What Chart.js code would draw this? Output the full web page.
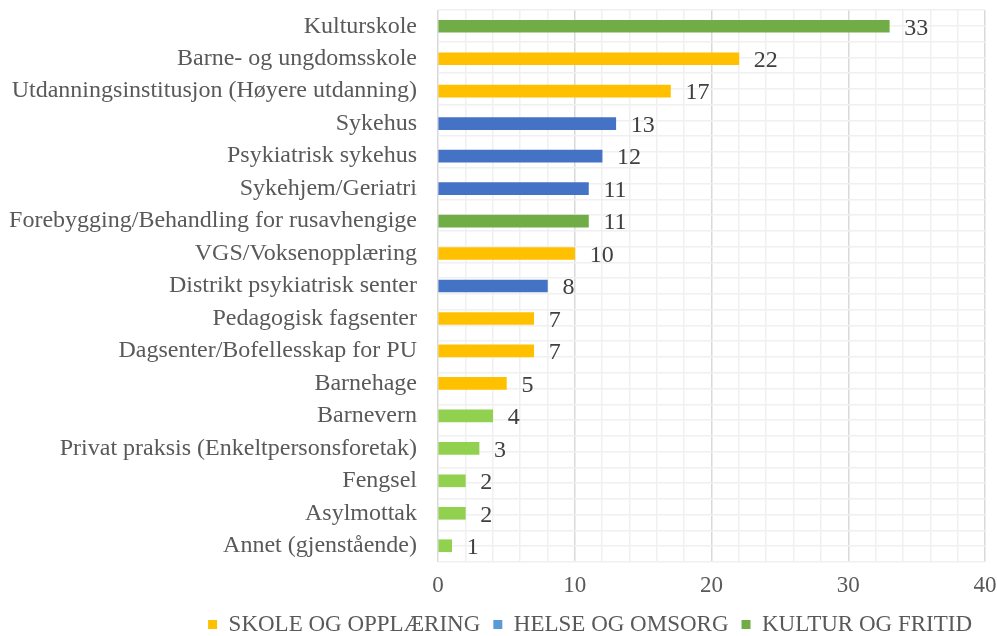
<!DOCTYPE html>
<html>
<head>
<meta charset="utf-8">
<script src="https://cdn.jsdelivr.net/npm/chart.js@4.4.1/dist/chart.umd.min.js"></script>
<style>
  html, body { margin: 0; padding: 0; background: #fff; }
  #wrap { width: 997px; height: 636px; }
</style>
</head>
<body>
<div id="wrap"><canvas id="chart"></canvas></div>
<script>
const categories = [
  'Kulturskole',
  'Barne- og ungdomsskole',
  'Utdanningsinstitusjon (Høyere utdanning)',
  'Sykehus',
  'Psykiatrisk sykehus',
  'Sykehjem/Geriatri',
  'Forebygging/Behandling for rusavhengige',
  'VGS/Voksenopplæring',
  'Distrikt psykiatrisk senter',
  'Pedagogisk fagsenter',
  'Dagsenter/Bofellesskap for PU',
  'Barnehage',
  'Barnevern',
  'Privat praksis (Enkeltpersonsforetak)',
  'Fengsel',
  'Asylmottak',
  'Annet (gjenstående)'
];
const counts = [33, 22, 17, 13, 12, 11, 11, 10, 8, 7, 7, 5, 4, 3, 2, 2, 1];
const barColors = [
  '#70AD47', '#FFC000', '#FFC000', '#4472C4', '#4472C4', '#4472C4', '#70AD47',
  '#FFC000', '#4472C4', '#FFC000', '#FFC000', '#FFC000',
  '#92D050', '#92D050', '#92D050', '#92D050', '#92D050'
];
const legendNames = ['SKOLE OG OPPLÆRING', 'HELSE OG OMSORG', 'KULTUR OG FRITID'];
const legendColors = ['#FFC000', '#5B9BD5', '#70AD47'];

const serif = '"Liberation Serif", "Times New Roman", serif';

// value labels to the right of each bar
const valueLabels = {
  id: 'valueLabels',
  afterDatasetsDraw(chart) {
    const ctx = chart.ctx;
    const meta = chart.getDatasetMeta(0);
    ctx.save();
    ctx.font = '24px ' + serif;
    ctx.fillStyle = '#404040';
    ctx.textAlign = 'left';
    ctx.textBaseline = 'middle';
    meta.data.forEach((bar, i) => {
      ctx.fillText(String(counts[i]), bar.x + 15, bar.y + 2);
    });
    ctx.restore();
  }
};

new Chart(document.getElementById('chart'), {
  type: 'bar',
  data: {
    labels: categories,
    datasets: [{
      data: counts,
      backgroundColor: barColors,
      barThickness: 12
    }]
  },
  options: {
    indexAxis: 'y',
    responsive: true,
    maintainAspectRatio: false,
    animation: false,
    layout: { padding: { top: 10, right: 12, left: 0, bottom: -10 } },
    scales: {
      x: {
        min: 0,
        max: 40,
        border: { display: false },
        grid: {
          drawTicks: false,
          lineWidth: 1.5,
          color: c => (c.tick && c.tick.value % 10 === 0) ? '#d9d9d9' : '#f0f0f0'
        },
        ticks: {
          stepSize: 2,
          autoSkip: false,
          maxRotation: 0,
          padding: 10,
          color: '#595959',
          font: { family: serif, size: 23 },
          callback: v => (v % 10 === 0 ? String(v) : '')
        },
        afterFit(scale) {
          scale.height = 38;
          scale.paddingLeft = 0;
          scale.paddingRight = 0;
        }
      },
      y: {
        border: { display: false },
        grid: { display: false },
        ticks: {
          padding: 13,
          autoSkip: false,
          color: '#595959',
          font: { family: serif, size: 24 }
        },
        afterFit(scale) {
          scale.width = 438;
          scale.paddingTop = 0;
          scale.paddingBottom = 0;
        }
      },
      yg: {
        type: 'linear',
        position: 'left',
        min: 0,
        max: 34,
        border: { display: false },
        grid: { drawTicks: false, lineWidth: 1.5, color: '#f0f0f0' },
        ticks: { display: false, stepSize: 1 },
        afterFit(scale) {
          scale.width = 0;
          scale.paddingTop = 0;
          scale.paddingBottom = 0;
        }
      }
    },
    plugins: {
      legend: {
        position: 'bottom',
        align: 'end',
        labels: {
          boxWidth: 9,
          boxHeight: 9,
          padding: 13,
          color: '#595959',
          font: { family: serif, size: 23 },
          generateLabels: () => legendNames.map((name, i) => ({
            text: name,
            fillStyle: legendColors[i],
            strokeStyle: legendColors[i],
            fontColor: '#595959',
            lineWidth: 0,
            hidden: false,
            datasetIndex: 0
          }))
        }
      },
      tooltip: { enabled: false }
    }
  },
  plugins: [valueLabels]
});
</script>
</body>
</html>
